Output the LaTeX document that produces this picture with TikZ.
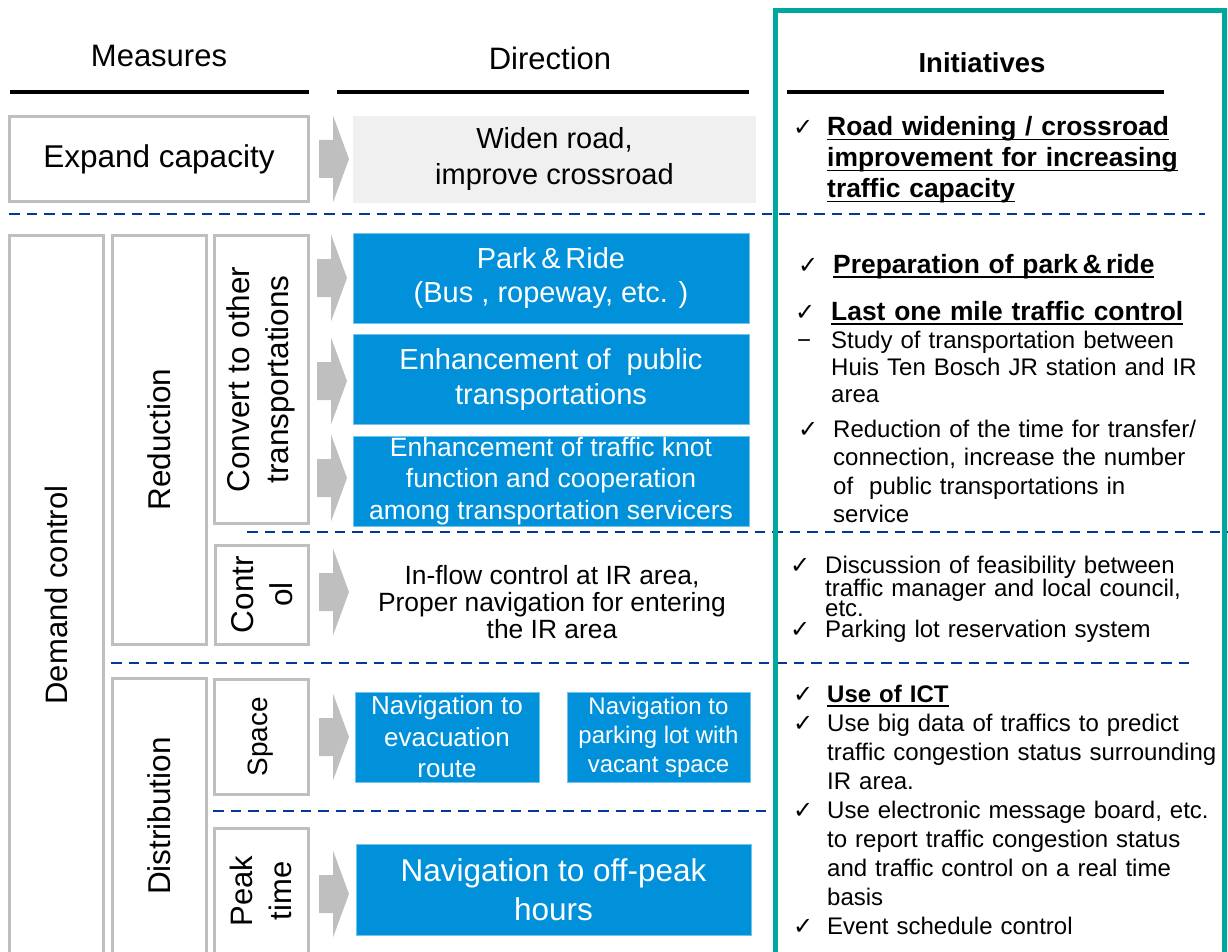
\documentclass[tikz,border=0pt]{standalone}
\usepackage{fontspec}
\setmainfont{Liberation Sans}
\newfontfamily\symfont{DejaVu Sans}
\usetikzlibrary{positioning}

\definecolor{boxgray}{HTML}{BFBFBF}
\definecolor{lightfill}{HTML}{F0F0F0}
\definecolor{navblue}{HTML}{0091DA}
\definecolor{frameteal}{HTML}{00A79D}
\definecolor{dashblue}{HTML}{003A96}

\newcommand{\fsz}[2]{\fontsize{#1}{#2}\selectfont}
\newcommand{\tickmark}{{\symfont\mdseries\fontsize{24}{24}\selectfont ✓}}
\newsavebox{\ulbox}
\newcommand{\ul}[1]{\sbox{\ulbox}{#1}\rlap{\rule[-4.5pt]{\wd\ulbox}{1.6pt}}\usebox{\ulbox}}
\newcommand{\tickitem}[2]{\hangindent=#1\hangafter=1\noindent\makebox[#1][l]{\tickmark}#2\par}
\newcommand{\dashitem}[2]{\hangindent=#1\hangafter=1\noindent\makebox[#1][l]{−}#2\par}

\begin{document}
\begin{tikzpicture}[x=1pt, y=-1pt,
  graybox/.style={draw=boxgray, line width=3pt, inner sep=0pt, align=center},
  bluebox/.style={fill=navblue, draw=navblue!55, line width=1pt, text=white, inner sep=0pt, align=center},
  headline/.style={line width=4pt, black},
  sepline/.style={dashblue, line width=2.6pt, dash pattern=on 10.5pt off 7pt},
  initem/.style={anchor=base west, inner sep=0pt, text width=430pt},
  grayarrow/.pic={\fill[boxgray] (0,-19) -- (14,-19) -- (14,-43.5) -- (30,0) -- (14,43.5) -- (14,19) -- (0,19) -- cycle;}]
  \useasboundingbox (0,0) rectangle (1228,952);
  \begin{scope}
  \clip (0,0) rectangle (1228,952);

  % Column headers
  \node[anchor=base, font=\fsz{31}{36}] (hmeasures) at (159,67) {Measures};
  \node[anchor=base, font=\fsz{31}{36}] (hdirection) at (550,70) {Direction};
  \node[anchor=base, font=\bfseries\fsz{27.5}{32}] (hinit) at (982,73) {Initiatives};
  \draw[headline] (10,92) -- (309,92);
  \draw[headline] (337,92) -- (749,92);
  \draw[headline] (787,92) -- (1164,92);

  % Measures
  \node[graybox, minimum width=299pt, minimum height=85pt, font=\fsz{31.5}{36}] (expand) at (159,159) {Expand capacity};
  \draw[graybox] (9.5,235.5) rectangle (103.5,970);
  \node[rotate=90, font=\fsz{31}{36}] (demand) at (56.5,595) {Demand control};
  \node[graybox, rotate=90, minimum width=408.5pt, minimum height=94pt, font=\fsz{31.5}{36}] (reduction) at (159.5,439.75) {Reduction};
  \draw[graybox] (112.5,678.5) rectangle (206.5,970);
  \node[rotate=90, font=\fsz{31.5}{36}] (distribution) at (159.5,816) {Distribution};
  \node[graybox, rotate=90, minimum width=288pt, minimum height=94.5pt, font=\fsz{31.5}{39}] (convert) at (261.25,379.5) {Convert to other\\transportations};
  \node[graybox, rotate=90, minimum width=99pt, minimum height=93pt, font=\fsz{31.5}{39}] (control) at (262,594.5) {Contr\\ol};
  \node[graybox, rotate=90, minimum width=114.5pt, minimum height=94pt, font=\fsz{28}{33}] (space) at (261,736.75) {Space};
  \draw[graybox] (214,828.5) rectangle (308,970);
  \node[rotate=90, align=center, font=\fsz{31}{39}] (peak) at (261,891) {Peak\\time};

  % Arrows
  \pic at (319,159) {grayarrow};
  \pic at (317,278) {grayarrow};
  \pic at (317,381) {grayarrow};
  \pic at (317,478) {grayarrow};
  \pic at (319,592) {grayarrow};
  \pic at (319,737) {grayarrow};
  \pic at (319,894) {grayarrow};

  % Direction
  \node[fill=lightfill, inner sep=0pt, align=center, minimum width=403pt, minimum height=87pt, font=\fsz{29}{36}] (widen) at (554.5,159.5) {Widen road,\\improve crossroad};
  \node[bluebox, minimum width=396pt, minimum height=90pt, font=\fsz{29}{34}] (parkride) at (551,278) {Park\,\&\,Ride\\(Bus , ropeway, etc. )};
  \node[bluebox, minimum width=396pt, minimum height=90pt, font=\fsz{29}{35}] (public) at (551,379) {Enhancement of\ \ public\\transportations};
  \node[bluebox, minimum width=396pt, minimum height=90pt, font=\fsz{26.5}{31.5}] (knot) at (551,481) {Enhancement of traffic knot\\function and cooperation\\among transportation servicers};
  \node[align=center, inner sep=0pt, font=\fsz{26.4}{27}] (inflow) at (552,602) {In-flow control at IR area,\\Proper navigation for entering\\the IR area};
  \node[bluebox, minimum width=184pt, minimum height=90pt, font=\fsz{26}{31.5}] (evac) at (447,737) {Navigation to\\evacuation\\route};
  \node[bluebox, minimum width=183pt, minimum height=90pt, font=\fsz{24}{29}] (parklot) at (658.5,737) {Navigation to\\parking lot with\\vacant space};
  \node[bluebox, minimum width=395pt, minimum height=91pt, font=\fsz{31.5}{39}] (offpeak) at (553.5,889.5) {Navigation to off-peak\\hours};

  % Separators
  \draw[sepline] (9,214) -- (1205,214);
  \draw[sepline] (247,532) -- (1228,532);
  \draw[sepline] (111,663) -- (1192,663);
  \draw[sepline] (213,811) -- (773,811);

  % Initiatives
  \node[initem, font=\bfseries\fsz{26.4}{31}] (initroad) at (793,136) {\tickitem{34pt}{\ul{Road widening / crossroad}\newline
    \ul{improvement for increasing}\newline \ul{traffic capacity}}};
  \node[initem, font=\bfseries\fsz{26.4}{31}] (initpark) at (798,273) {\tickitem{35pt}{\ul{Preparation of park\,\&\,ride}}};
  \node[initem, font=\bfseries\fsz{26.4}{31}] (initmile) at (795,320) {\tickitem{36pt}{\ul{Last one mile traffic control}}};
  \node[initem, font=\fsz{24}{27}] (initstudy) at (797,348) {\dashitem{34pt}{Study of transportation between\newline
    Huis Ten Bosch JR station and IR\newline area}};
  \node[initem, font=\fsz{24}{28.5}] (inittransfer) at (798,437) {\tickitem{35pt}{Reduction of the time for transfer/\newline
    connection, increase the number\newline of\ \ public transportations in\newline service}};
  \node[initem, font=\fsz{24}{20.5}] (initfeas) at (790,573) {\tickitem{35pt}{Discussion of feasibility between\newline
    traffic manager and local council,\newline etc.}};
  \node[initem, font=\fsz{24}{28}] (initreserve) at (790,637) {\tickitem{35pt}{Parking lot reservation system}};
  \node[initem, font=\fsz{24}{29}] (initict) at (793,702) {\tickitem{34pt}{{\bfseries\ul{Use of ICT}}}%
    \tickitem{34pt}{Use big data of traffics to predict\newline traffic congestion status surrounding\newline IR area.}%
    \tickitem{34pt}{Use electronic message board, etc.\newline to report traffic congestion status\newline
    and traffic control on a real time\newline basis}%
    \tickitem{34pt}{Event schedule control}};

  % Frame
  \draw[frameteal, line width=5pt] (775,10.5) rectangle (1224.5,970);
  \end{scope}
\end{tikzpicture}
\end{document}
